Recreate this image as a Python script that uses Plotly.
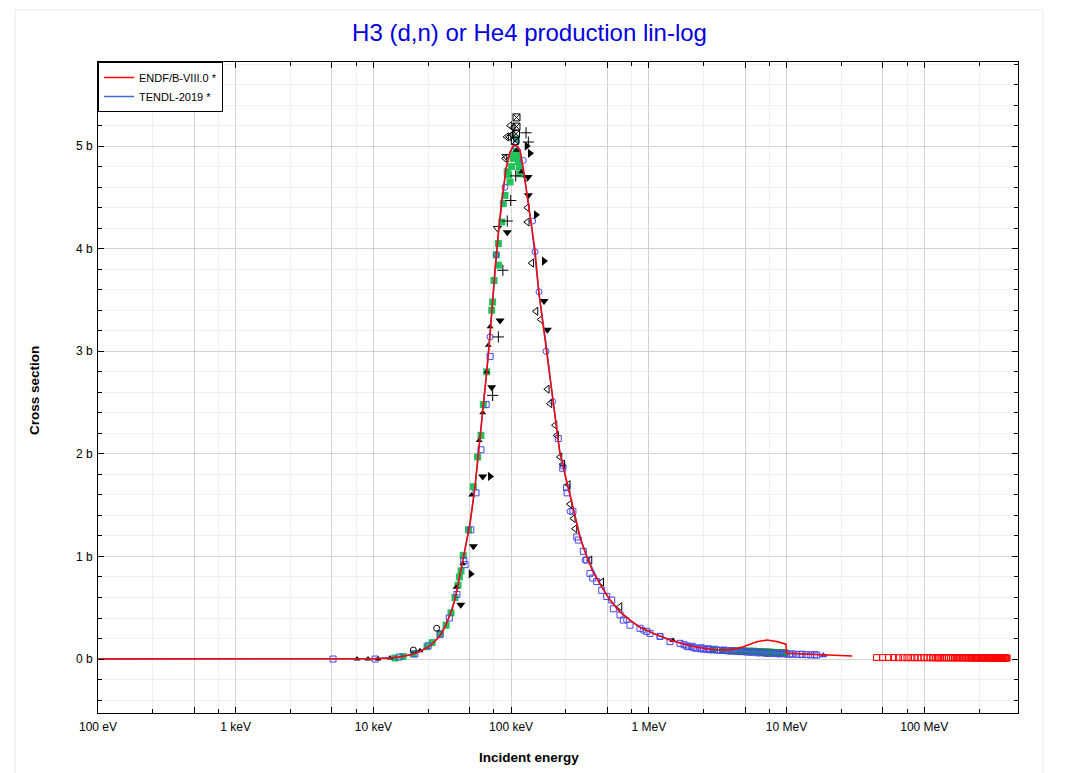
import plotly.graph_objects as go

# ---------------- data (energy in keV, cross section in barn) ----------------
endf_e = [0.1, 1, 5, 10, 13.2, 15.4, 18.4, 20.7, 23.7, 25.8, 28.8, 30.5, 33.1, 34.8, 37.2, 39.1,
          41.8, 44.7, 47.5, 50.3, 54.7, 59.4, 62.8, 66.5, 70.3, 72.3, 76.4, 80.8, 85.5, 91.9, 98.2,
          103, 106.7, 111, 116, 122.6, 129.9, 136, 142, 149, 159.4, 171.4, 179.2, 185.4, 191.6,
          198.2, 208.4, 226.5, 238, 250, 268, 286, 301, 316.5, 338, 362, 387, 442, 522.6, 618,
          730, 863, 1078, 1425, 1685, 1992, 2354, 2900, 3900, 4860, 6080, 7180, 8490, 9900,
          10000, 15700, 20700, 30000]
endf_s = [0, 0, 0.0005, 0.003, 0.01, 0.02, 0.04, 0.06, 0.1, 0.13, 0.19, 0.23, 0.31, 0.38, 0.48, 0.58,
          0.76, 0.97, 1.15, 1.32, 1.68, 2.13, 2.46, 2.80, 3.15, 3.38, 3.80, 4.15, 4.47, 4.78, 4.94,
          5.0, 5.01, 5.0, 4.96, 4.78, 4.55, 4.35, 4.18, 3.99, 3.56, 3.24, 3.08, 2.92, 2.76,
          2.60, 2.38, 2.0, 1.9, 1.76, 1.6, 1.43, 1.30, 1.19, 1.07, 0.97, 0.87, 0.73, 0.575, 0.46,
          0.38, 0.31, 0.25, 0.185, 0.155, 0.13, 0.11, 0.094, 0.088, 0.12, 0.168, 0.185, 0.17, 0.145,
          0.056, 0.045, 0.039, 0.03]

endf_hi_mev = [45, 50, 55, 60, 65, 70, 75, 80, 85, 90, 95, 100, 105, 110, 115, 120, 125, 130,
               135, 140, 145, 150, 155, 160, 165, 170, 175, 180, 185, 190, 195, 200, 205, 210,
               215, 220, 225, 230, 235, 240, 245, 250, 255, 260, 265, 270, 275, 280, 285, 290,
               295, 300, 305, 310, 315, 320, 325, 330, 335, 340, 345, 350, 355, 360, 365, 370,
               375, 380, 385, 390, 395, 400]
endf_hi_s = [0.014, 0.014, 0.014, 0.014, 0.013, 0.013, 0.013, 0.013, 0.013, 0.013, 0.013, 0.013,
             0.013, 0.013, 0.012, 0.012, 0.012, 0.012, 0.012, 0.012, 0.012, 0.012, 0.012, 0.012,
             0.012, 0.012, 0.012, 0.012, 0.012, 0.012, 0.012, 0.012, 0.012, 0.012, 0.012, 0.012,
             0.011, 0.011, 0.011, 0.011, 0.011, 0.011, 0.011, 0.011, 0.011, 0.011, 0.011, 0.011,
             0.011, 0.011, 0.011, 0.011, 0.011, 0.011, 0.011, 0.011, 0.011, 0.011, 0.011, 0.011,
             0.010, 0.010, 0.010, 0.010, 0.010, 0.010, 0.010, 0.010, 0.010, 0.010, 0.010, 0.010]

tendl_e = [0.1, 1, 5, 10, 15.4, 20.7, 25.8, 30.5, 34.8, 39.1, 44.7, 50.3, 54.7, 59.4, 66.5, 72.3,
           80.8, 91.9, 98.2, 106.7, 116, 129.9, 142, 159.4, 179.2, 198.2, 226.5, 250, 286, 316.5,
           362, 442, 522.6, 618, 730, 863, 1078, 1425, 1992, 2900, 3900, 4860, 6080, 7180, 8490,
           9900, 15700, 20000]
tendl_s = [0, 0, 0.0005, 0.003, 0.02, 0.06, 0.13, 0.23, 0.38, 0.58, 0.97, 1.32, 1.68, 2.13, 2.80, 3.38,
           4.15, 4.78, 4.94, 5.01, 4.96, 4.55, 4.18, 3.56, 3.08, 2.60, 2.0, 1.76, 1.43, 1.19,
           0.97, 0.73, 0.575, 0.46, 0.38, 0.31, 0.25, 0.185, 0.13, 0.092, 0.082, 0.076, 0.07, 0.064, 0.06,
           0.056, 0.045, 0.04]

# experimental sets
green_e = [14.35, 16.4, 19.5, 24.5, 26.7, 30.5, 33.7, 36.6, 39.1, 41.2, 43.3, 42.1, 44.9, 49.0,
           53.2, 57.1, 60.4, 62.8, 66.5, 72.3, 73.4, 75.1, 78.0, 80.8, 80.8, 85.5, 87.8, 90.3,
           93.6, 98.2, 100.8, 103.5, 109.4, 109.4, 112.8, 114.6, 116.0, 96.0, 105.0, 111.0]
green_s = [0.01, 0.025, 0.05, 0.12, 0.16, 0.25, 0.33, 0.45, 0.6, 0.72, 0.86, 0.80, 1.01, 1.26,
           1.68, 1.97, 2.18, 2.48, 2.80, 3.40, 3.48, 3.69, 3.94, 3.84, 4.05, 4.26, 4.44, 4.52,
           4.75, 4.65, 4.80, 4.88, 4.95, 5.07, 4.85, 4.80, 4.73, 4.72, 4.92, 4.90]

green2_e = [2930, 3440, 3970, 4470, 4860, 5000, 5280, 5740, 6240, 6500, 6780, 7000, 7370, 7700,
            8020, 8300, 8720, 9000, 9220, 9750]
green2_s = [0.09, 0.083, 0.08, 0.08, 0.08, 0.075, 0.077, 0.077, 0.073, 0.07, 0.07, 0.068, 0.069,
            0.066, 0.065, 0.063, 0.064, 0.062, 0.062, 0.06]

bsq_e = [5.09, 10.3, 15.4, 20.0, 25.0, 30.5, 35.6, 40.4, 45.3, 46.3, 50.9, 55.6, 60.4, 65.9, 70.3,
         220, 237, 253, 255, 281, 300, 307.6, 334.5, 354, 374, 391.4, 418.4, 455, 494.7, 537.8,
         552.5, 618, 652.9, 730, 863, 965.4, 1020, 1206, 1425, 1685, 1885, 1936, 2105, 2354,
         2634, 3113, 3680, 4349, 5140, 6075, 7182, 8490, 10035, 11860, 14020, 16570,
         2200, 2500, 2800, 3300, 3900, 4600, 5500, 6500, 7600, 9000, 10500, 12500, 15000,
         1800, 2050, 2400, 2700, 3000, 3500, 4100, 4800, 5800, 6800, 8000, 9500, 11000, 13000, 16000]
bsq_s = [0.0, 0.0, 0.02, 0.05, 0.13, 0.24, 0.40, 0.63, 0.96, 0.92, 1.26, 1.62, 2.04, 2.48, 2.95,
         2.15, 1.86, 1.67, 1.62, 1.44, 1.19, 1.16, 1.05, 0.965, 0.835, 0.79, 0.755, 0.67, 0.61, 0.575,
         0.49, 0.43, 0.38, 0.33, 0.30, 0.27, 0.25, 0.22, 0.17, 0.153, 0.127, 0.12, 0.114, 0.10,
         0.094, 0.088, 0.081, 0.075, 0.068, 0.061, 0.055, 0.052, 0.049, 0.046, 0.042, 0.039,
         0.105, 0.097, 0.09, 0.084, 0.078, 0.072, 0.066, 0.06, 0.055, 0.05, 0.047, 0.044, 0.04,
         0.14, 0.125, 0.11, 0.1, 0.095, 0.088, 0.082, 0.076, 0.07, 0.064, 0.059, 0.055, 0.05, 0.047, 0.043]

bci_e = [70.3, 78.0, 90.3, 109.4, 122.6, 143.4, 149, 159.4, 179.2, 200.5, 239, 268, 344, 689, 908, 1206]
bci_s = [3.14, 3.94, 4.6, 5.04, 4.86, 4.27, 3.97, 3.58, 3.0, 2.51, 1.88, 1.44, 0.965, 0.38, 0.28, 0.22]

btri_e = [18500]
btri_s = [0.035]

tl_e = [90.3, 92.7, 96.7, 98.2, 101.5, 103.5, 131.1, 131.1, 141.1, 151.6, 164, 183.2, 191.6, 208.4,
        214.3, 226.5, 237, 260.3, 267.7, 283, 291, 374, 455, 618]
tl_s = [4.88, 5.09, 5.09, 5.2, 5.11, 5.18, 4.40, 4.26, 3.86, 3.39, 3.31, 2.63, 2.49, 2.28,
        2.18, 1.97, 1.90, 1.70, 1.51, 1.37, 1.27, 0.965, 0.75, 0.51]

tr_e = [50.9, 70.3, 129.9, 137.2, 151.6, 173.4]
tr_s = [0.83, 1.78, 5.0, 4.93, 4.33, 3.88]

td_e = [43.1, 53.2, 62.2, 72.3, 83.1, 93.8, 132.7, 133.4, 173.4, 183.2]
td_s = [0.53, 1.10, 1.78, 2.65, 3.30, 4.16, 4.70, 4.52, 3.49, 3.21]

tdo_e = [79.4, 91.8, 129.9]
tdo_s = [4.20, 4.90, 4.69]

plus_e = [73.4, 80.8, 87.1, 93.8, 99.3, 108.0, 128.3, 133.4]
plus_s = [2.57, 3.14, 3.79, 4.27, 4.47, 4.71, 5.13, 5.04]

bx_e = [106.5, 108.5, 109.4, 109.4]
bx_s = [5.05, 5.12, 5.19, 5.28]

tu_e = [7.6, 9.14, 10.8, 13.2, 21.8, 39.8, 44.5, 51.7, 58.7, 62.2, 66.5, 68.3, 70.3, 109.4, 119.2, 1500]
tu_s = [0.0, 0.0, 0.0, 0.01, 0.08, 0.70, 0.93, 1.60, 2.13, 2.40, 2.80, 3.06, 3.24, 4.96, 4.75, 0.18]

oc_e = [19.5, 28.8]
oc_s = [0.088, 0.30]

# ---------------- figure ----------------
FONT = "Liberation Sans, Arial, sans-serif"
BLUE_M = "#4646f0"
W, H = 1059, 765
fig = go.Figure()


def marks(x, y, symbol, color, size=6, lw=1):
    fig.add_trace(go.Scatter(
        x=x, y=y, mode="markers", showlegend=False, hoverinfo="skip",
        marker=dict(symbol=symbol, color=color, size=size, line=dict(width=lw, color=color))))


marks(green_e, green_s, "square", "#22c25a", 7, 0)
marks(green2_e, green2_s, "square", "#16a016", 7, 0)
marks(bsq_e, bsq_s, "square-open", BLUE_M, 6)
marks(bci_e, bci_s, "circle-open", BLUE_M, 6)
marks(btri_e, btri_s, "triangle-up", BLUE_M, 7, 0)
marks(tl_e, tl_s, "triangle-left-open", "black", 7)
marks(tr_e, tr_s, "triangle-right", "black", 8, 0)
marks(td_e, td_s, "triangle-down", "black", 8, 0)
marks(tdo_e, tdo_s, "triangle-down-open", "black", 7)
marks(plus_e, plus_s, "cross-thin-open", "black", 8)
marks(bx_e, bx_s, "square-x-open", "black", 7)
marks(tu_e, tu_s, "triangle-up", "black", 6, 0)
marks(oc_e, oc_s, "circle-open", "black", 6)

fig.add_trace(go.Scatter(x=tendl_e, y=tendl_s, mode="lines", name="TENDL-2019 *",
                         line=dict(color="royalblue", width=1.5), legendrank=2, hoverinfo="skip"))
fig.add_trace(go.Scatter(x=endf_e, y=endf_s, mode="lines", name="ENDF/B-VIII.0 *",
                         line=dict(color="red", width=1.5), legendrank=1, hoverinfo="skip"))
fig.add_trace(go.Scatter(x=[v * 1000 for v in endf_hi_mev], y=endf_hi_s, mode="markers",
                         showlegend=False, hoverinfo="skip",
                         marker=dict(symbol="square-open", color="red", size=6, line=dict(width=1))))

major_x = [0.1, 0.5, 1, 5, 10, 50, 100, 500, 1000, 5000, 1e4, 5e4, 1e5]
major_xt = ["100 eV", "", "1 keV", "", "10 keV", "", "100 keV", "", "1 MeV", "", "10 MeV", "", "100 MeV"]
minor_x = [0.25, 0.75, 2.5, 7.5, 25, 75, 250, 750, 2500, 7500, 2.5e4, 7.5e4, 2.5e5]
minor_y = [round(-0.4 + 0.2 * i, 1) for i in range(32)]

fig.update_xaxes(
    type="log", range=[-1, 5.681], tickmode="array", tickvals=major_x, ticktext=major_xt,
    showgrid=True, gridcolor="#d2d2d2", gridwidth=1, zeroline=False,
    showline=True, linecolor="black", linewidth=1, mirror="ticks",
    ticks="inside", ticklen=6, tickcolor="black",
    tickfont=dict(family=FONT, size=12, color="black"), ticklabelstandoff=3,
    minor=dict(tickmode="array", tickvals=minor_x, ticks="inside", ticklen=4, tickcolor="black",
               showgrid=True, gridcolor="#efefef", gridwidth=1),
)
fig.update_yaxes(
    range=[-0.526, 5.82], tickmode="array", tickvals=[0, 1, 2, 3, 4, 5],
    ticktext=["0 b", "1 b", "2 b", "3 b", "4 b", "5 b"],
    showgrid=True, gridcolor="#d2d2d2", gridwidth=1, zeroline=False,
    showline=True, linecolor="black", linewidth=1, mirror="ticks",
    ticks="inside", ticklen=6, tickcolor="black",
    tickfont=dict(family=FONT, size=12, color="black"), ticklabelstandoff=2,
    minor=dict(tickmode="array", tickvals=minor_y, ticks="inside", ticklen=4, tickcolor="black",
               showgrid=True, gridcolor="#efefef", gridwidth=1),
)

fig.update_layout(
    width=W, height=H,
    margin=dict(l=90, r=49, t=54, b=60),
    paper_bgcolor="white", plot_bgcolor="white",
    font=dict(family=FONT, size=12, color="black"),
    title=dict(text="H3 (d,n) or He4 production lin-log", x=0.5 - 8 / W, xref="container",
               y=1 - 25 / H, yref="container", xanchor="center", yanchor="middle",
               font=dict(family=FONT, size=24, color="#0000dd")),
    legend=dict(x=0, y=1, xanchor="left", yanchor="top", bgcolor="white",
                bordercolor="black", borderwidth=1, itemwidth=30,
                font=dict(family=FONT, size=11, color="black"), tracegroupgap=0),
    annotations=[
        dict(text="<b>Incident energy</b>", xref="paper", yref="paper", x=0.469, y=-0.0676,
             xanchor="center", yanchor="middle", showarrow=False,
             font=dict(family=FONT, size=13.5, color="black")),
        dict(text="<b>Cross section</b>", xref="paper", yref="paper", x=-0.0696, y=0.496,
             xanchor="center", yanchor="middle", showarrow=False, textangle=-90,
             font=dict(family=FONT, size=13.5, color="black")),
    ],
    shapes=[dict(type="rect", xref="paper", yref="paper", x0=-0.0902, x1=1.0272, y0=-0.2, y1=1.08,
                 line=dict(color="#e8e8e8", width=1), fillcolor="rgba(0,0,0,0)", layer="below")],
)

fig.write_html("out.html")
